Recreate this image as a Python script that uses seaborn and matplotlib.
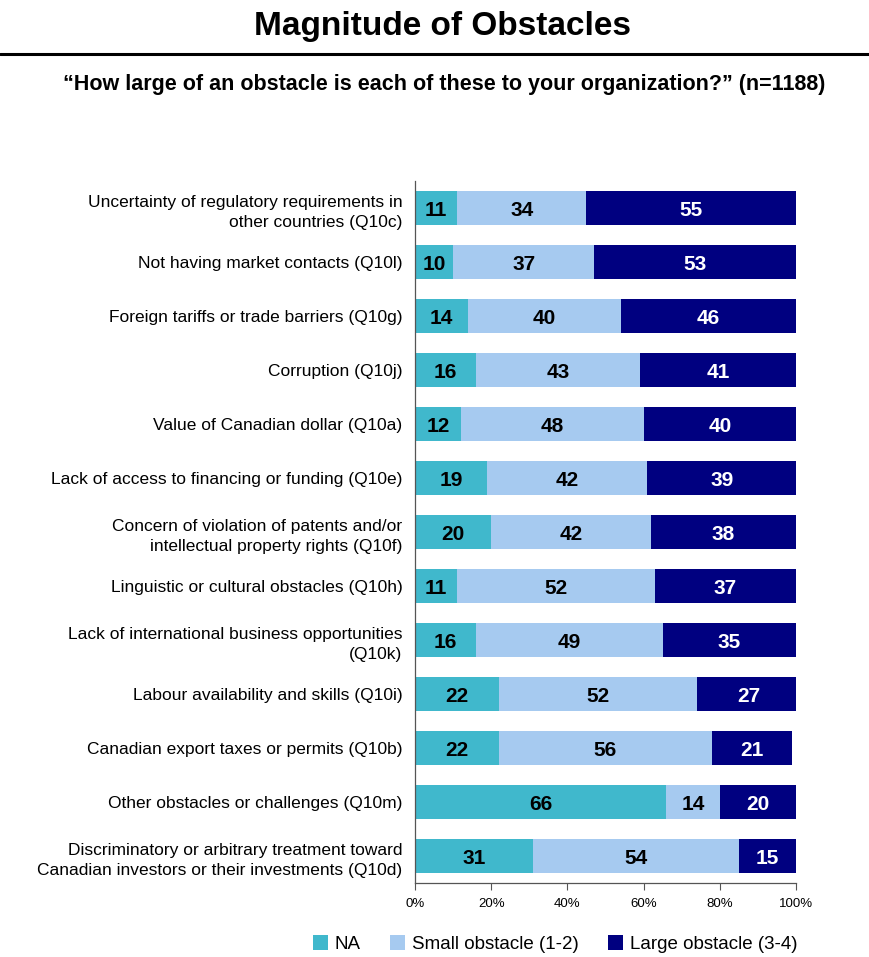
import matplotlib
matplotlib.use("Agg")
import matplotlib.pyplot as plt
import seaborn as sns
import pandas as pd
import numpy as np
from matplotlib.patches import Patch
from matplotlib.lines import Line2D

categories = [
    "Uncertainty of regulatory requirements in\nother countries (Q10c)",
    "Not having market contacts (Q10l)",
    "Foreign tariffs or trade barriers (Q10g)",
    "Corruption (Q10j)",
    "Value of Canadian dollar (Q10a)",
    "Lack of access to financing or funding (Q10e)",
    "Concern of violation of patents and/or\nintellectual property rights (Q10f)",
    "Linguistic or cultural obstacles (Q10h)",
    "Lack of international business opportunities\n(Q10k)",
    "Labour availability and skills (Q10i)",
    "Canadian export taxes or permits (Q10b)",
    "Other obstacles or challenges (Q10m)",
    "Discriminatory or arbitrary treatment toward\nCanadian investors or their investments (Q10d)",
]
na_vals = [11, 10, 14, 16, 12, 19, 20, 11, 16, 22, 22, 66, 31]
small_vals = [34, 37, 40, 43, 48, 42, 42, 52, 49, 52, 56, 14, 54]
large_vals = [55, 53, 46, 41, 40, 39, 38, 37, 35, 27, 21, 20, 15]
series_names = ["NA", "Small obstacle (1-2)", "Large obstacle (3-4)"]
xtick_vals = [0, 20, 40, 60, 80, 100]

c_na = "#40B8CC"
c_small = "#A6CAF0"
c_large = "#000080"
colors = [c_na, c_small, c_large]

sns.set_style("white")
plt.rcParams['font.family'] = ['Liberation Sans', 'DejaVu Sans']
plt.rcParams['text.color'] = 'black'
plt.rcParams['xtick.color'] = 'black'
plt.rcParams['ytick.color'] = 'black'

df = pd.DataFrame({"cat": categories, "na": na_vals, "small": small_vals, "large": large_vals})
df["c1"] = df["na"]
df["c2"] = df["na"] + df["small"]
df["c3"] = df["na"] + df["small"] + df["large"]

fig = plt.figure(figsize=(8.69, 9.57), dpi=100)
ax = fig.add_axes([415/869, 1-883/957, (796-415)/869, (883-181)/957])

bw = 0.63
sns.barplot(data=df, x="c3", y="cat", color=c_large, width=bw, linewidth=0, ax=ax, orient="h", saturation=1)
sns.barplot(data=df, x="c2", y="cat", color=c_small, width=bw, linewidth=0, ax=ax, orient="h", saturation=1)
sns.barplot(data=df, x="c1", y="cat", color=c_na, width=bw, linewidth=0, ax=ax, orient="h", saturation=1)

for i, row in df.iterrows():
    segs = [(0, row["na"], "black"), (row["c1"], row["small"], "black"), (row["c2"], row["large"], "white")]
    for start, w, tc in segs:
        ax.text(start + w / 2, i, f"{int(w)}", ha="center", va="center_baseline",
                fontsize=15, fontweight="bold", color=tc)

ax.set_xlim(0, 100)
ax.set_ylim(12.5, -0.5)
ax.set_xticks(xtick_vals)
ax.set_xticklabels([f"{v}%" for v in xtick_vals], fontsize=9.5)
ax.set_xlabel("")
ax.set_ylabel("")
ax.tick_params(axis="x", length=5, width=0.8, color="#555555", direction="out", pad=6, bottom=True)
ax.tick_params(axis="y", length=0, pad=9, labelsize=12.5)
for lab in ax.get_yticklabels():
    lab.set_linespacing(1.45)
for s in ["top", "right"]:
    ax.spines[s].set_visible(False)
ax.spines["left"].set_color("#555555")
ax.spines["bottom"].set_color("#555555")
ax.spines["left"].set_linewidth(0.9)
ax.spines["bottom"].set_linewidth(0.9)

fig.text(0.509, 0.972, "Magnitude of Obstacles", ha="center", va="center",
         fontsize=24, fontweight="bold")
fig.add_artist(Line2D([0, 1], [1-54/957, 1-54/957], color="black", linewidth=2.2, transform=fig.transFigure))
fig.text(0.511, 0.912, "\u201cHow large of an obstacle is each of these to your organization?\u201d (n=1188)",
         ha="center", va="center", fontsize=15.5, fontweight="bold")

handles = [Patch(facecolor=c, edgecolor="none") for c in colors]
fig.legend(handles, series_names, loc="center", bbox_to_anchor=(555/869, 1-944/957), ncol=3,
           frameon=False, fontsize=13.5, handlelength=0.8, handleheight=0.8, handletextpad=0.35,
           columnspacing=1.6, borderaxespad=0)

fig.savefig("out.png", dpi=100)
